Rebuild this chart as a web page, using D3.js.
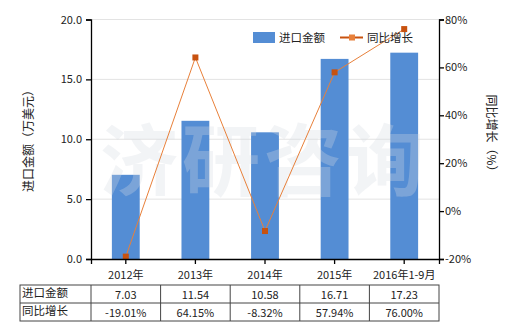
<!DOCTYPE html>
<html>
<head>
<meta charset="utf-8">
<script src="https://cdn.jsdelivr.net/npm/d3@7"></script>
<style>
  body { margin: 0; background: #fff; }
  svg { font-family: "Noto Sans CJK SC", "Noto Sans", sans-serif; }
</style>
</head>
<body>
<svg id="chart" width="520" height="330"></svg>
<script>
var categories = ["2012年", "2013年", "2014年", "2015年", "2016年1-9月"];
var importValues = [7.03, 11.54, 10.58, 16.71, 17.23];
var growthValues = [-19.01, 64.15, -8.32, 57.94, 76.00];
var importLabels = ["7.03", "11.54", "10.58", "16.71", "17.23"];
var growthLabels = ["-19.01%", "64.15%", "-8.32%", "57.94%", "76.00%"];
var leftTicks = [0, 5, 10, 15, 20];
var rightTicks = [-20, 0, 20, 40, 60, 80];

var barColor = "#548dd4";
var lineColor = "#e8803a";
var markColor = "#c8520f";

var svg = d3.select("#chart");
// "top" is taken by window.top, so plot edges get their own names
var plotLeft = 91, plotRight = 439, plotTop = 19.5, plotBottom = 259;

var x = d3.scaleBand().domain(categories).range([plotLeft, plotRight]);
var yL = d3.scaleLinear().domain([0, 20]).range([plotBottom, plotTop]);
var yR = d3.scaleLinear().domain([-20, 80]).range([plotBottom, plotTop]);

// grid lines
svg.append("g").selectAll("line").data(leftTicks.slice(1)).enter().append("line")
  .attr("x1", plotLeft).attr("x2", plotRight)
  .attr("y1", function(d){ return yL(d); }).attr("y2", function(d){ return yL(d); })
  .attr("stroke", "#e3e3e3").attr("stroke-width", 1);

// bars
var barW = x.bandwidth() * 0.4;
svg.append("g").selectAll("rect").data(importValues).enter().append("rect")
  .attr("x", function(d, i){ return x(categories[i]) + x.bandwidth() / 2 - barW / 2; })
  .attr("y", function(d){ return yL(d); })
  .attr("width", barW)
  .attr("height", function(d){ return plotBottom - yL(d); })
  .attr("fill", barColor);

// watermark
svg.append("text")
  .attr("x", 264).attr("y", 190)
  .attr("text-anchor", "middle")
  .attr("font-size", 78).attr("font-weight", "bold")
  .attr("letter-spacing", 4)
  .attr("fill", "#d6dbe3").attr("opacity", 0.3)
  .text("济研咨询");

// line
var cx = function(i){ return x(categories[i]) + x.bandwidth() / 2; };
var line = d3.line()
  .x(function(d, i){ return cx(i); })
  .y(function(d){ return yR(d); });
svg.append("path").datum(growthValues)
  .attr("d", line).attr("fill", "none")
  .attr("stroke", lineColor).attr("stroke-width", 1);
svg.append("g").selectAll("rect").data(growthValues).enter().append("rect")
  .attr("x", function(d, i){ return cx(i) - 3; })
  .attr("y", function(d){ return yR(d) - 3; })
  .attr("width", 6).attr("height", 6)
  .attr("fill", markColor);

// axes
var axisL = svg.append("g").attr("transform", "translate(" + plotLeft + ",0)")
  .call(d3.axisLeft(yL).tickValues(leftTicks).tickFormat(d3.format(".1f")).tickSizeOuter(0).tickSize(5));
var axisR = svg.append("g").attr("transform", "translate(" + plotRight + ",0)")
  .call(d3.axisRight(yR).tickValues(rightTicks).tickFormat(function(d){ return d + "%"; }).tickSizeOuter(0).tickSize(5));
var axisB = svg.append("g").attr("transform", "translate(0," + plotBottom + ")")
  .call(d3.axisBottom(x).tickSizeOuter(0).tickSize(5));
[axisL, axisR, axisB].forEach(function(a){
  a.selectAll("path, line").attr("stroke", "#000").attr("stroke-width", 1.3);
  a.selectAll("text").attr("font-size", 11).attr("fill", "#222")
    .attr("font-family", "\"Noto Sans CJK SC\", sans-serif");
});
axisL.selectAll("text").attr("dx", "-1");
axisR.selectAll("text").attr("dx", "-2");
axisB.selectAll("text").attr("dy", "1.05em");

// axis titles
svg.append("text")
  .attr("transform", "translate(33,138) rotate(-90)")
  .attr("text-anchor", "middle").attr("font-size", 12).attr("fill", "#222")
  .text("进口金额（万美元）");
svg.append("text")
  .attr("transform", "translate(487,136) rotate(90)")
  .attr("text-anchor", "middle").attr("font-size", 12).attr("fill", "#222")
  .text("同比增长（%）");

// legend
svg.append("rect").attr("x", 253).attr("y", 32).attr("width", 22).attr("height", 11).attr("fill", barColor);
svg.append("text").attr("x", 279).attr("y", 42).attr("font-size", 11.5).attr("fill", "#222").text("进口金额");
svg.append("line").attr("x1", 340).attr("x2", 363).attr("y1", 37.5).attr("y2", 37.5)
  .attr("stroke", markColor).attr("stroke-width", 2);
svg.append("rect").attr("x", 349).attr("y", 34.5).attr("width", 6).attr("height", 6).attr("fill", "#e8803a");
svg.append("text").attr("x", 367).attr("y", 42).attr("font-size", 11.5).attr("fill", "#222").text("同比增长");

// data table
var tLeft = 20, tTop = 285, rowH = 18;
var rows = [["进口金额", importLabels], ["同比增长", growthLabels]];
var table = svg.append("g");
var colEdges = [tLeft].concat(categories.map(function(c){ return x(c); })).concat([plotRight]);
table.append("rect").attr("x", tLeft).attr("y", tTop).attr("width", plotRight - tLeft).attr("height", rowH * 2)
  .attr("fill", "none").attr("stroke", "#444").attr("stroke-width", 1);
table.append("line").attr("x1", tLeft).attr("x2", plotRight).attr("y1", tTop + rowH).attr("y2", tTop + rowH)
  .attr("stroke", "#444");
table.selectAll("line.col").data(colEdges.slice(1, -1)).enter().append("line")
  .attr("class", "col")
  .attr("x1", function(d){ return d; }).attr("x2", function(d){ return d; })
  .attr("y1", tTop).attr("y2", tTop + rowH * 2).attr("stroke", "#444");
rows.forEach(function(r, ri){
  var yy = tTop + rowH * ri + 13;
  table.append("text").attr("x", tLeft + 2).attr("y", yy - 1).attr("font-size", 11.5).attr("fill", "#222").text(r[0]);
  table.selectAll("text.v" + ri).data(r[1]).enter().append("text")
    .attr("class", "v" + ri)
    .attr("x", function(d, i){ return cx(i); })
    .attr("y", yy + 1)
    .attr("text-anchor", "middle").attr("font-size", 11).attr("fill", "#222")
    .text(function(d){ return d; });
});
</script>
</body>
</html>
